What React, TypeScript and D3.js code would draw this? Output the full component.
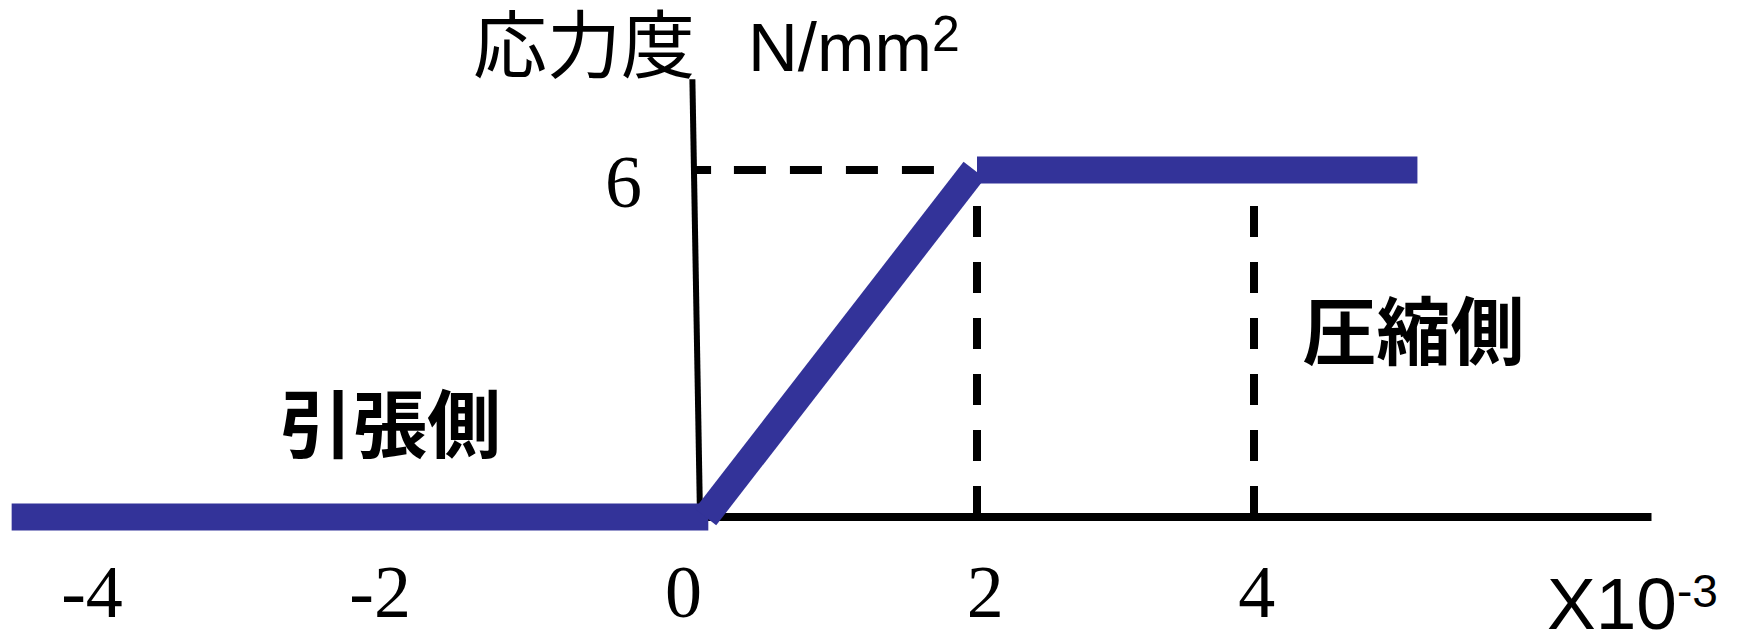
import React from "react";
import * as d3 from "d3";

// ---- data (strain ×10^-3, stress N/mm²) ----
const tensionLine = [
  { e: -4.97, s: 0 },
  { e: 0.06, s: 0 },
];
const elasticLine = [
  { e: 0.04, s: 0 },
  { e: 1.98, s: 6 },
];
const plasticLine = [
  { e: 2.0, s: 6 },
  { e: 5.18, s: 6 },
];
const xTickValues = [-4, -2, 0, 2, 4];
const xTickLabels = ["-4", "-2", "0", "2", "4"];
const xTickLabelAt = [-4.39, -2.31, -0.12, 2.06, 4.02];
const yTickValue = 6;
const yTickLabel = "6";
const refStrains = [2, 4];
const yAxisTop = { e: -0.055, s: 7.57 };
const xAxisEnd = 6.87;
const yTitle = "応力度";
const yUnit = "N/mm";
const yUnitSup = "2";
const xUnit = "X10";
const xUnitSup = "-3";
const tensionLabel = "引張側";
const compressionLabel = "圧縮側";

const W = 1738;
const H = 634;
const BLUE = "#333399";

export default function App() {
  const x = d3.scaleLinear().domain([-5, 7]).range([7.5, 1669.5]);
  const y = d3.scaleLinear().domain([0, 7.6]).range([517, 77.5]);
  const line = d3
    .line<{ e: number; s: number }>()
    .x((d) => x(d.e))
    .y((d) => y(d.s));

  const sans = "'Liberation Sans', Arial, sans-serif";
  const serif = "'Liberation Serif', 'Times New Roman', serif";
  const cjk = "'Noto Sans CJK JP', sans-serif";

  return (
    <svg
      width={W}
      height={H}
      viewBox={`0 0 ${W} ${H}`}
      style={{ position: "absolute", left: 0, top: 0, background: "#fff" }}
    >
      <rect x={0} y={0} width={W} height={H} fill="#fff" />

      {/* y axis (slightly slanted) */}
      <line
        x1={x(yAxisTop.e)}
        y1={y(yAxisTop.s)}
        x2={x(0)}
        y2={y(0)}
        stroke="#000"
        strokeWidth={6}
      />
      {/* x axis */}
      <line
        x1={x(0)}
        y1={y(0)}
        x2={x(xAxisEnd)}
        y2={y(0)}
        stroke="#000"
        strokeWidth={8}
      />

      {/* y tick at 6 and dashed guide */}
      <line
        x1={x(-0.045)}
        y1={y(yTickValue)}
        x2={x(0.08)}
        y2={y(yTickValue)}
        stroke="#000"
        strokeWidth={8}
      />
      <line
        x1={x(0.245)}
        y1={y(yTickValue)}
        x2={x(1.705)}
        y2={y(yTickValue)}
        stroke="#000"
        strokeWidth={8}
        strokeDasharray="32 24"
      />

      {/* vertical dashed guides */}
      {refStrains.map((v) => (
        <line
          key={v}
          x1={x(v)}
          y1={y(5.38)}
          x2={x(v)}
          y2={y(0)}
          stroke="#000"
          strokeWidth={8}
          strokeDasharray="31 25"
        />
      ))}

      {/* stress-strain model */}
      {[tensionLine, elasticLine, plasticLine].map((seg, i) => (
        <path
          key={i}
          d={line(seg) || ""}
          fill="none"
          stroke={BLUE}
          strokeWidth={27}
          strokeLinecap="butt"
        />
      ))}

      {/* x tick labels */}
      {xTickValues.map((v, i) => (
        <text
          key={v}
          x={x(xTickLabelAt[i])}
          y={y(0) + 100}
          textAnchor="middle"
          fontFamily={serif}
          fontSize={74}
          fill="#000"
        >
          {xTickLabels[i]}
        </text>
      ))}

      {/* y tick label */}
      <text
        x={x(0) - 58}
        y={y(yTickValue) + 37}
        textAnchor="end"
        fontFamily={serif}
        fontSize={74}
        fill="#000"
      >
        {yTickLabel}
      </text>

      {/* y title */}
      <text x={473} y={72} fontFamily={cjk} fontSize={74} fill="#000">
        {yTitle}
      </text>
      <text x={748} y={71} fontFamily={sans} fontSize={69} fill="#000">
        {yUnit}
        <tspan fontSize={50} dy={-20}>
          {yUnitSup}
        </tspan>
      </text>

      {/* x unit */}
      <text x={1547} y={629} fontFamily={sans} fontSize={73} fill="#000">
        {xUnit}
        <tspan fontSize={46} dy={-22}>
          {xUnitSup}
        </tspan>
      </text>

      {/* region labels */}
      <text
        x={x(-3.04)}
        y={y(1.13)}
        fontFamily={cjk}
        fontWeight={700}
        fontSize={74}
        fill="#000"
      >
        {tensionLabel}
      </text>
      <text
        x={x(4.35)}
        y={y(2.73)}
        fontFamily={cjk}
        fontWeight={700}
        fontSize={74}
        fill="#000"
      >
        {compressionLabel}
      </text>
    </svg>
  );
}
